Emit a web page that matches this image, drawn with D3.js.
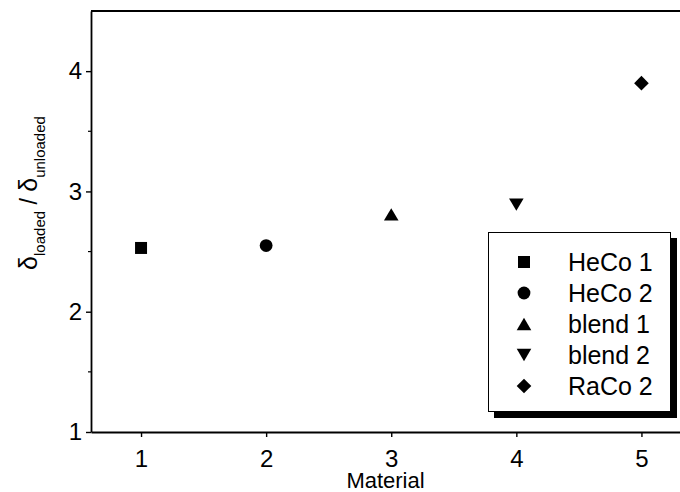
<!DOCTYPE html>
<html>
<head>
<meta charset="utf-8">
<script src="https://cdn.jsdelivr.net/npm/d3@7"></script>
<style>
  body { margin: 0; background: #fff; }
  svg { display: block; font-family: "Liberation Sans", Arial, sans-serif; }
</style>
</head>
<body>
<div id="chart"></div>
<script>
// data
var materials = [1, 2, 3, 4, 5];
var names = ["HeCo 1", "HeCo 2", "blend 1", "blend 2", "RaCo 2"];
var ratios = [2.53, 2.55, 2.81, 2.89, 3.90];
var shapes = ["square", "circle", "triangle", "triangleDown", "diamond"];
var xTicks = [1, 2, 3, 4, 5];
var yTicks = [1, 2, 3, 4];
var yMinor = [1.5, 2.5, 3.5];

var w = 680, h = 492;
var mLeft = 91, mTop = 11, mBottom = 432;

var x = d3.scaleLinear().domain([0.6, 5.4]).range([mLeft, mLeft + 4.8 * 125.1]);
var y = d3.scaleLinear().domain([1, 4.5]).range([mBottom, mTop]);

// custom marker shapes, size = half width
var symTypes = {
  square: { draw: function(c, r) { c.rect(-r, -r, 2 * r, 2 * r); } },
  circle: { draw: function(c, r) { c.moveTo(r, 0); c.arc(0, 0, r, 0, 2 * Math.PI); } },
  triangle: { draw: function(c, r) { c.moveTo(0, -r * 0.84); c.lineTo(r, r * 0.84); c.lineTo(-r, r * 0.84); c.closePath(); } },
  triangleDown: { draw: function(c, r) { c.moveTo(0, r * 0.84); c.lineTo(r, -r * 0.84); c.lineTo(-r, -r * 0.84); c.closePath(); } },
  diamond: { draw: function(c, r) { c.moveTo(0, -r); c.lineTo(r, 0); c.lineTo(0, r); c.lineTo(-r, 0); c.closePath(); } }
};
var symSize = { square: 6, circle: 6.4, triangle: 7.3, triangleDown: 7.3, diamond: 7.3 };
function sym(s) { return d3.symbol().type(symTypes[s]).size(symSize[s])(); }

var svg = d3.select("#chart").append("svg")
  .attr("width", w)
  .attr("height", h);

// y axis
var yAxis = svg.append("g")
  .attr("transform", "translate(" + mLeft + ",0)")
  .call(d3.axisLeft(y).tickValues(yTicks).tickSize(5).tickSizeOuter(0).tickPadding(4).tickFormat(d3.format("d")));
yAxis.selectAll("text").style("font-size", "24px").attr("fill", "#000").attr("font-family", null);
yAxis.select(".domain").attr("stroke-width", 1.8);
yAxis.selectAll(".tick line").attr("stroke-width", 1.4);

svg.append("g").selectAll("line")
  .data(yMinor).enter().append("line")
  .attr("x1", mLeft - 3).attr("x2", mLeft)
  .attr("y1", function(d) { return y(d); })
  .attr("y2", function(d) { return y(d); })
  .attr("stroke", "#000").attr("stroke-width", 1.2);

// x axis
var xAxis = svg.append("g")
  .attr("transform", "translate(0," + mBottom + ")")
  .call(d3.axisBottom(x).tickValues(xTicks).tickSize(5).tickSizeOuter(0).tickPadding(13).tickFormat(d3.format("d")));
xAxis.selectAll("text").style("font-size", "24px").attr("fill", "#000").attr("font-family", null);
xAxis.select(".domain").attr("stroke-width", 1.8);
xAxis.selectAll(".tick line").attr("stroke-width", 1.4);

// top frame line
svg.append("line")
  .attr("x1", mLeft).attr("x2", w)
  .attr("y1", mTop).attr("y2", mTop)
  .attr("stroke", "#000").attr("stroke-width", 1.8);

// axis titles
svg.append("text")
  .attr("x", (mLeft + w) / 2)
  .attr("y", 488)
  .attr("text-anchor", "middle")
  .style("font-size", "22px")
  .text("Material");

var yl = svg.append("text")
  .attr("transform", "translate(37,193) rotate(-90)")
  .attr("text-anchor", "middle");
yl.append("tspan").style("font-size", "25px").text("δ");
yl.append("tspan").style("font-size", "15px").attr("dy", 8).text("loaded");
yl.append("tspan").style("font-size", "23px").attr("dy", -8).text(" / ");
yl.append("tspan").style("font-size", "25px").text("δ");
yl.append("tspan").style("font-size", "15px").attr("dy", 8).text("unloaded");

// points
svg.append("g").selectAll("path")
  .data(materials).enter().append("path")
  .attr("d", function(d, i) { return sym(shapes[i]); })
  .attr("transform", function(d, i) { return "translate(" + x(d) + "," + y(ratios[i]) + ")"; })
  .attr("fill", "#000");

// legend
var lg = svg.append("g");
lg.append("rect")
  .attr("x", 494).attr("y", 238).attr("width", 183).attr("height", 180)
  .attr("fill", "#000");
lg.append("rect")
  .attr("x", 488.5).attr("y", 232.5).attr("width", 182).attr("height", 179)
  .attr("fill", "#fff").attr("stroke", "#000").attr("stroke-width", 1);

var rows = lg.selectAll("g.row")
  .data(names).enter().append("g")
  .attr("class", "row")
  .attr("transform", function(d, i) { return "translate(0," + (262 + i * 31) + ")"; });
rows.append("path")
  .attr("d", function(d, i) { return sym(shapes[i]); })
  .attr("transform", "translate(524,0)")
  .attr("fill", "#000");
rows.append("text")
  .attr("x", 568)
  .attr("dy", "0.36em")
  .style("font-size", "25px")
  .text(function(d) { return d; });
</script>
</body>
</html>
